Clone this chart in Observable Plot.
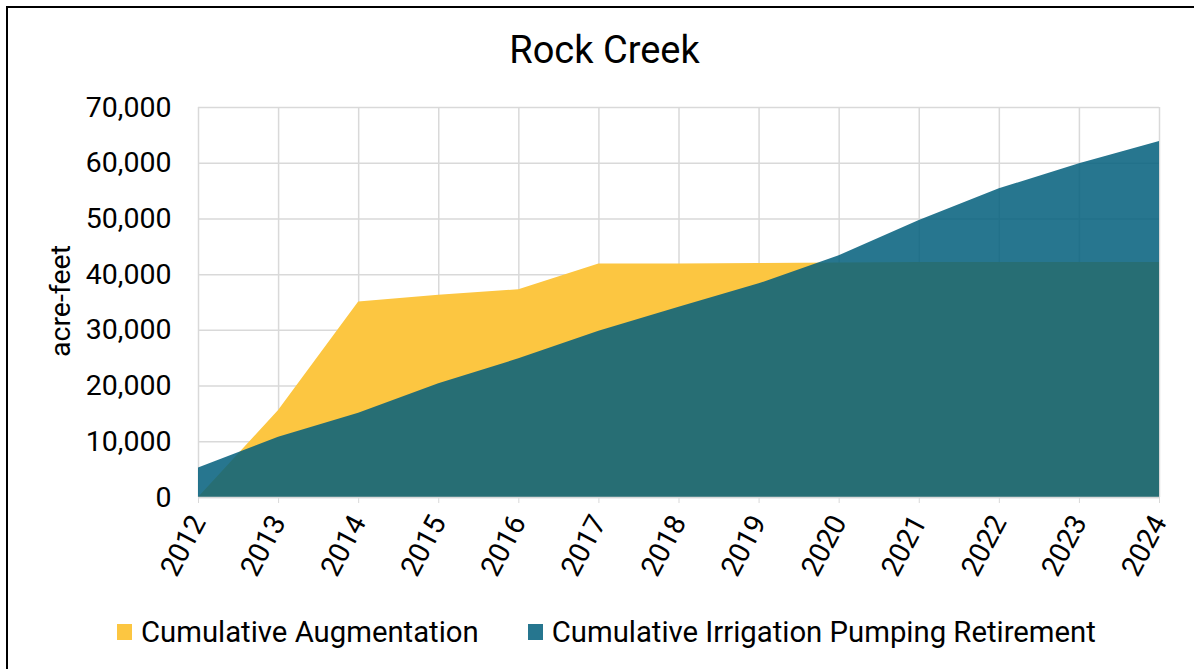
<!DOCTYPE html>
<html>
<head>
<meta charset="utf-8">
<script src="https://cdn.jsdelivr.net/npm/d3@7"></script>
<script src="https://cdn.jsdelivr.net/npm/@observablehq/plot@0.6"></script>
<style>
  html, body { margin: 0; padding: 0; background: #fff; width: 1194px; height: 669px; overflow: hidden; position: relative; font-family: Roboto, sans-serif; }
  #frame { position: absolute; left: 6px; top: 6px; width: 1300px; height: 800px; border-left: 2px solid #000; border-top: 2px solid #000; }
  #title { position: absolute; left: 0; width: 1209px; top: 31px; text-align: center; font-size: 38px; line-height: 38px; color: #000; }
  #ylabel { position: absolute; left: 60px; top: 301px; transform: translate(-50%, -50%) rotate(-90deg); font-family: Roboto, sans-serif; font-size: 28.5px; white-space: nowrap; color: #000; }
  #chart { position: absolute; left: 0; top: 80px; }
  #legend { position: absolute; top: 614px; left: 117px; height: 36px; display: flex; align-items: center; font-size: 29.3px; color: #000; white-space: nowrap; }
  .sw { display: inline-block; width: 15px; height: 16px; margin-right: 9px; }
  .item { display: flex; align-items: center; }
</style>
</head>
<body>
<div id="frame"></div>
<div id="title">Rock Creek</div>
<div id="ylabel">acre-feet</div>
<div id="chart"></div>
<div id="legend"></div>
<script>
const years = [2012, 2013, 2014, 2015, 2016, 2017, 2018, 2019, 2020, 2021, 2022, 2023, 2024];
const augmentation = [0, 15600, 35100, 36300, 37300, 41900, 41900, 42000, 42100, 42200, 42200, 42200, 42200];
const retirement = [5300, 10800, 15100, 20400, 24900, 29850, 34150, 38350, 43400, 49700, 55400, 59900, 63900];
const yTicks = [0, 10000, 20000, 30000, 40000, 50000, 60000, 70000];
const seriesNames = ["Cumulative Augmentation", "Cumulative Irrigation Pumping Retirement"];
const seriesColors = ["#FCC641", "#26768F"];

const data = years.map((y, i) => ({year: y, aug: augmentation[i], ret: retirement[i]}));

const chart = Plot.plot({
  width: 1194,
  height: 520,
  marginTop: 27,
  marginBottom: 103,
  marginLeft: 198,
  marginRight: 35,
  style: {fontFamily: "Roboto, sans-serif", fontSize: "28.5px", color: "#000", background: "transparent", overflow: "visible"},
  x: {domain: [2012, 2024]},
  y: {domain: [0, 70000]},
  marks: [
    Plot.gridX(years, {stroke: "#d9d9d9", strokeOpacity: 1, strokeWidth: 1.5}),
    Plot.gridY(yTicks, {stroke: "#d9d9d9", strokeOpacity: 1, strokeWidth: 1.5}),
    Plot.areaY(data, {x: "year", y: "aug", fill: seriesColors[0]}),
    Plot.areaY(data, {x: "year", y: "ret", fill: "rgb(3,96,125)", fillOpacity: 0.86}),
    Plot.ruleY([0], {stroke: "#d9d9d9", strokeWidth: 1.5}),
    Plot.axisX(years, {tickSize: 6, stroke: "#d9d9d9", tickRotate: -62, tickPadding: 14, tickFormat: d => String(d), label: null, fill: "#000"}),
    Plot.axisY(yTicks, {tickSize: 0, tickPadding: 27, tickFormat: d3.format(","), label: null, fill: "#000"})
  ]
});
document.getElementById("chart").appendChild(chart);

const legend = document.getElementById("legend");
seriesNames.forEach((name, i) => {
  const item = document.createElement("div");
  item.className = "item";
  if (i > 0) item.style.marginLeft = "49px";
  const sw = document.createElement("span");
  sw.className = "sw";
  sw.style.background = seriesColors[i];
  const t = document.createElement("span");
  t.textContent = name;
  item.appendChild(sw);
  item.appendChild(t);
  legend.appendChild(item);
});
</script>
</body>
</html>
